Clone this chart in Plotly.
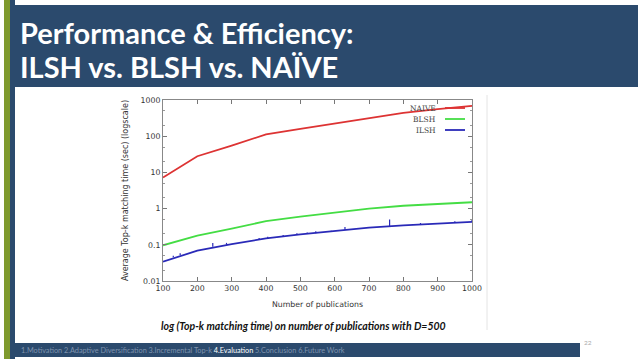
import plotly.graph_objects as go

# ---- data ----
x_pubs = [100, 200, 300, 400, 500, 600, 700, 800, 900, 1000]
naive = [7.2, 28, 55, 112, 160, 225, 320, 440, 560, 690]
blsh = [0.097, 0.18, 0.28, 0.45, 0.60, 0.78, 1.0, 1.2, 1.34, 1.5]
ilsh = [0.034, 0.069, 0.105, 0.15, 0.195, 0.24, 0.30, 0.345, 0.39, 0.43]

spike_x = [130, 150, 245, 285, 380, 405, 450, 490, 520, 545, 590, 630, 760, 850, 950, 1000]
spike_base = [0.045, 0.052, 0.088, 0.1, 0.14, 0.15, 0.17, 0.19, 0.2, 0.21, 0.225, 0.26, 0.32, 0.37, 0.41, 0.43]
spike_top = [0.05, 0.058, 0.112, 0.113, 0.155, 0.168, 0.188, 0.208, 0.22, 0.235, 0.245, 0.31, 0.50, 0.4, 0.45, 0.5]

y_tickvals = [0.01, 0.1, 1, 10, 100, 1000]
y_ticktext = ["0.01", "0.1", "1", "10", "100", "1000"]
x_tickvals = [100, 200, 300, 400, 500, 600, 700, 800, 900, 1000]

series_names = ["NAIVE", "BLSH", "ILSH"]
series_colors = ["#dd3333", "#44dd44", "#2a2ab8"]

title_lines = ["Performance &amp; Efficiency:", "ILSH vs. BLSH vs. NAÏVE"]
caption = "log (Top-k matching time) on number of publications with D=500"
footer_parts = ["1.Motivation 2.Adaptive Diversification 3.Incremental Top-k ", "4.Evaluation", " 5.Conclusion 6.Future Work"]
page_no = "22"

# ---- geometry ----
FW, FH = 638, 359
L, R, T, B = 163, 472, 100, 281
W, H = R - L, B - T

def px(x):
    return (x - L) / W

def py(y):
    return (B - y) / H

fig = go.Figure()
for name, vals, col in zip(series_names, [naive, blsh, ilsh], series_colors):
    fig.add_trace(go.Scatter(x=x_pubs, y=vals, mode="lines", name=name,
                             line=dict(color=col, width=1.8), showlegend=False))

fig.add_trace(go.Scatter(
    x=spike_x, y=spike_base, mode="markers", marker=dict(size=1, color=series_colors[2], opacity=0),
    error_y=dict(type="data", symmetric=False,
                 array=[t - b for t, b in zip(spike_top, spike_base)],
                 arrayminus=[0] * len(spike_x), color=series_colors[2], thickness=1.2, width=0),
    showlegend=False, hoverinfo="skip"))

shapes = []
shapes.append(dict(type="rect", xref="paper", yref="paper", x0=px(4), x1=px(10), y0=py(FH), y1=py(0),
                   fillcolor="#7f9a2e", line=dict(width=0), layer="below"))
shapes.append(dict(type="rect", xref="paper", yref="paper", x0=px(10), x1=px(15), y0=py(FH), y1=py(0),
                   fillcolor="#2b4a6d", line=dict(width=0), layer="below"))
shapes.append(dict(type="rect", xref="paper", yref="paper", x0=px(10), x1=px(638), y0=py(87), y1=py(5),
                   fillcolor="#2b4a6d", line=dict(width=0), layer="below"))
shapes.append(dict(type="rect", xref="paper", yref="paper", x0=px(10), x1=px(580), y0=py(357), y1=py(343),
                   fillcolor="#2b4a6d", line=dict(width=0), layer="below"))
shapes.append(dict(type="line", xref="paper", yref="paper", x0=px(487), x1=px(487), y0=py(330), y1=py(95),
                   line=dict(color="#e4e4e4", width=1), layer="below"))

annotations = []
for i, t in enumerate(title_lines):
    annotations.append(dict(text=t, xref="paper", yref="paper", x=px(18), y=py(32 + 35 * i),
                            xanchor="left", yanchor="middle", showarrow=False,
                            font=dict(family="Lato", size=29, color="white", weight="bold")))

for i, (name, col) in enumerate(zip(series_names, series_colors)):
    yy = 108 + 11 * i
    annotations.append(dict(text=name, xref="paper", yref="paper", x=px(438), y=py(yy),
                            xanchor="right", yanchor="middle", showarrow=False,
                            font=dict(family="DejaVu Serif", size=7.5, color="#444")))
    shapes.append(dict(type="line", xref="paper", yref="paper", x0=px(445), x1=px(465), y0=py(yy), y1=py(yy),
                       line=dict(color=col, width=1.8)))

annotations.append(dict(text="<b><i>" + caption + "</i></b>", xref="paper", yref="paper", x=px(303), y=py(326),
                        xanchor="center", yanchor="middle", showarrow=False,
                        font=dict(family="Lato", size=10.5, color="#111")))
annotations.append(dict(text=footer_parts[0] + "<span style='color:#ffffff'>" + footer_parts[1] + "</span>" + footer_parts[2],
                        xref="paper", yref="paper", x=px(19), y=py(350),
                        xanchor="left", yanchor="middle", showarrow=False,
                        font=dict(family="Lato", size=7.3, color="#7f93ad")))
annotations.append(dict(text=page_no, xref="paper", yref="paper", x=px(582), y=py(342),
                        xanchor="left", yanchor="middle", showarrow=False,
                        font=dict(family="Lato", size=6.5, color="#aaaaaa")))

axis_font = dict(family="DejaVu Sans", size=7.8, color="#333")
fig.update_layout(
    width=FW, height=FH,
    margin=dict(l=L, r=FW - R, t=T, b=FH - B, pad=0),
    paper_bgcolor="white", plot_bgcolor="white",
    shapes=shapes, annotations=annotations,
    xaxis=dict(range=[100, 1000], tickvals=x_tickvals, ticks="inside", ticklen=4, tickcolor="#777",
               showline=True, linecolor="#888", linewidth=1, mirror="ticks", showgrid=False, zeroline=False,
               tickfont=axis_font,
               title=dict(text="Number of publications", font=dict(family="DejaVu Sans", size=7.8, color="#333"), standoff=9)),
    yaxis=dict(type="log", range=[-2, 3], tickvals=y_tickvals, ticktext=y_ticktext, ticks="inside", ticklen=4,
               tickcolor="#777", showline=True, linecolor="#888", linewidth=1, mirror="ticks", showgrid=False,
               zeroline=False, tickfont=axis_font,
               minor=dict(ticks="inside", ticklen=2, tickcolor="#999", showgrid=False),
               title=dict(text="Average Top-k matching time (sec) (logscale)",
                          font=dict(family="DejaVu Sans", size=8, color="#333"), standoff=10)),
)

fig.write_html("out.html", config={"displayModeBar": False},
               post_script="document.body.style.margin='0';document.body.style.overflow='hidden';")
